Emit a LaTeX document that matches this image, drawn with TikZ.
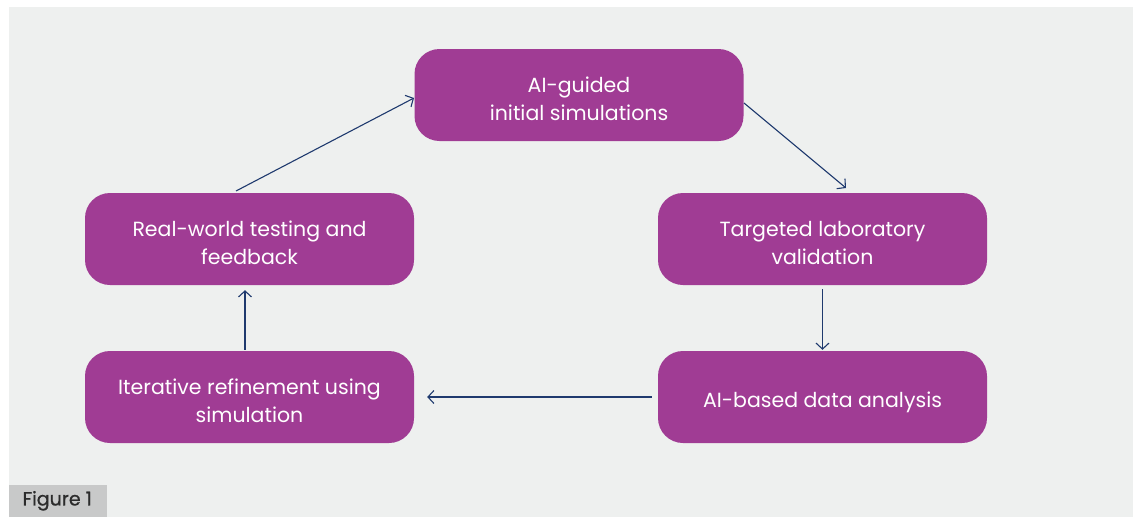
\documentclass[tikz,border=0pt]{standalone}
\usepackage{fontspec}
\setmainfont{Poppins}
\newfontfamily\tagfont[FakeBold=0.8]{Poppins}
\usetikzlibrary{arrows.meta}
\definecolor{panel}{HTML}{EEF0EF}
\definecolor{stepfill}{HTML}{A03C94}
\definecolor{flow}{HTML}{1F3A6E}
\definecolor{tagfill}{HTML}{C8C9C9}
\definecolor{tagtext}{HTML}{2B2B2B}
\tikzset{
  stepbox/.style={fill=stepfill, draw=none, rounded corners=25pt,
    minimum width=329pt, minimum height=92pt, inner sep=0pt},
  steptext/.style={align=center, text=white, inner sep=0pt,
    font=\fontsize{20.5}{28}\selectfont},
  flowline/.style={draw=flow, line width=1.1pt,
    -{Straight Barb[length=6pt, width=13pt, line width=1.1pt]}},
}
\begin{document}
\begin{tikzpicture}[x=1pt, y=-1pt]
  \useasboundingbox (0,0) rectangle (1136,517);
  \fill[white] (0,0) rectangle (1136,517);
  \fill[panel] (9,7) rectangle (1133,517);

  % process steps
  \node[stepbox] (sim)  at (579,95)    {};
  \node[stepbox] (lab)  at (822.5,239) {};
  \node[stepbox] (data) at (822.5,397) {};
  \node[stepbox] (iter) at (249.5,397) {};
  \node[stepbox] (real) at (249.5,239) {};

  % step labels, set a little below the box centres
  \node[steptext] (simT)  at ([yshift=-4pt]sim.center)  {AI-guided\\initial simulations};
  \node[steptext] (labT)  at ([yshift=-4pt]lab.center)  {Targeted laboratory\\validation};
  \node[steptext] (dataT) at ([yshift=-5pt]data.center) {AI-based data analysis};
  \node[steptext] (iterT) at ([yshift=-4pt]iter.center) {Iterative refinement using\\simulation};
  \node[steptext] (realT) at ([yshift=-4pt]real.center) {Real-world testing and\\feedback};

  % cycle connectors
  \coordinate (simOut) at (744,103);
  \coordinate (labIn)  at (846,188);
  \coordinate (realOut) at (236,191);
  \coordinate (simIn)  at (414,98);
  \draw[flowline] (simOut) -- (labIn);
  \draw[flowline] ([yshift=-4pt]lab.south) -- ([yshift=1pt]data.north);
  \draw[flowline] ([xshift=-6pt]data.west) -- ([xshift=13pt]iter.east);
  \draw[flowline] ([xshift=-4.5pt,yshift=1pt]iter.north) -- ([xshift=-4.5pt,yshift=-5pt]real.south);
  \draw[flowline] (realOut) -- (simIn);

  % caption tag
  \node[fill=tagfill, text=tagtext, font=\tagfont\fontsize{19}{22}\selectfont,
        minimum width=100pt, minimum height=32pt, inner sep=0pt, anchor=south west]
        (tag) at (7,517) {Figure 1};
  \fill[white] (0,485) rectangle (9,517);
\end{tikzpicture}
\end{document}
